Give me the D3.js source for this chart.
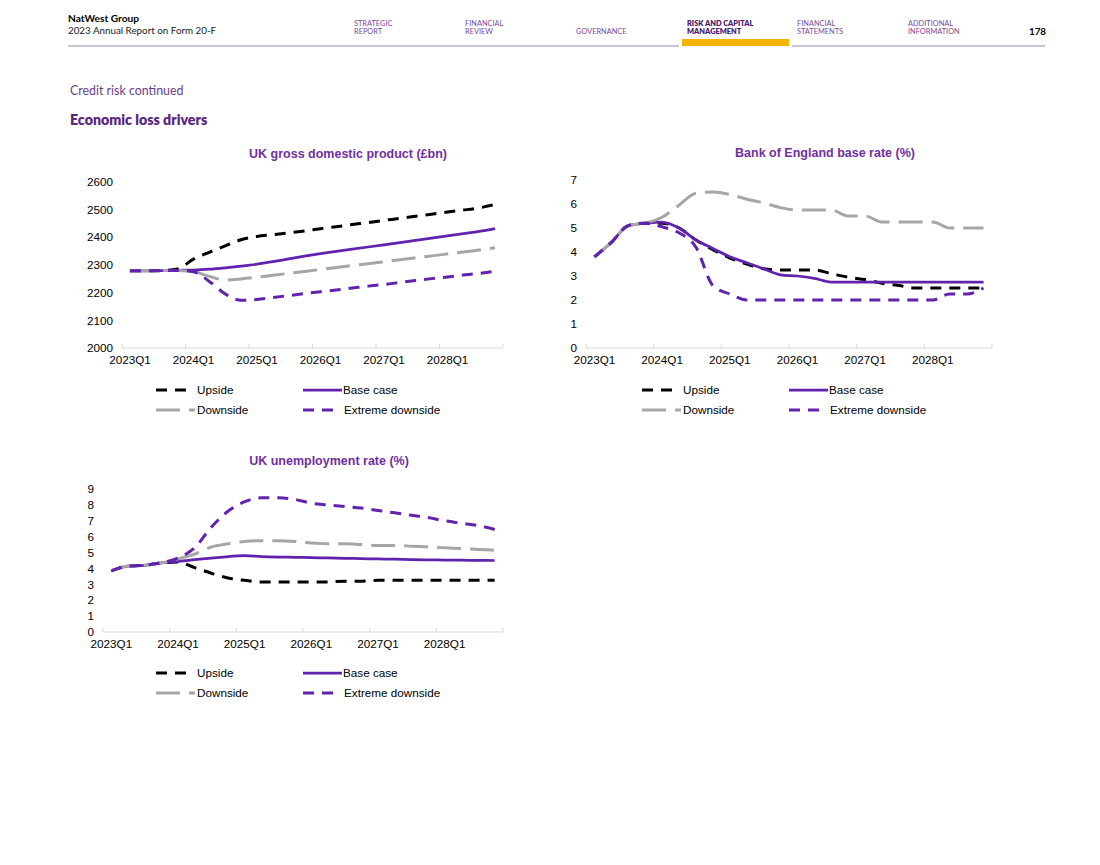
<!DOCTYPE html>
<html>
<head>
<meta charset="utf-8">
<script src="https://cdn.jsdelivr.net/npm/d3@7/dist/d3.min.js"></script>
<style>
  body { margin: 0; background: #fff; }
  svg text { font-family: "Liberation Sans", Arial, sans-serif; }
  .hdr { font-family: Lato, "Noto Sans", sans-serif !important; }
</style>
</head>
<body>
<svg id="page" width="1100" height="865"></svg>
<script>
'use strict'

// Data
// ----
var quarters = [
  '2023Q1','2023Q2','2023Q3','2023Q4',
  '2024Q1','2024Q2','2024Q3','2024Q4',
  '2025Q1','2025Q2','2025Q3','2025Q4',
  '2026Q1','2026Q2','2026Q3','2026Q4',
  '2027Q1','2027Q2','2027Q3','2027Q4',
  '2028Q1','2028Q2','2028Q3','2028Q4'
]
var tickLabels = ['2023Q1','2024Q1','2025Q1','2026Q1','2027Q1','2028Q1']
var seriesNames = ['Upside', 'Base case', 'Downside', 'Extreme downside']

var gdpTicks = [2000, 2100, 2200, 2300, 2400, 2500, 2600]
var gdpUpside   = [2278,2278,2279,2285,2320,2345,2368,2390,2402,2408,2415,2422,2430,2437,2445,2452,2460,2467,2475,2482,2490,2497,2505,2517]
var gdpBase     = [2278,2278,2279,2280,2281,2284,2289,2295,2302,2311,2321,2331,2340,2348,2356,2364,2372,2380,2388,2396,2404,2412,2420,2430]
var gdpDownside = [2278,2278,2279,2279,2275,2258,2245,2249,2255,2262,2269,2276,2283,2290,2297,2304,2311,2318,2325,2332,2339,2346,2353,2361]
var gdpExtreme  = [2278,2278,2279,2279,2275,2240,2195,2172,2175,2182,2189,2196,2203,2209,2216,2223,2229,2236,2243,2250,2256,2263,2269,2276]

var rateTicks = [0, 1, 2, 3, 4, 5, 6, 7]
var rateUpside   = [3.8,4.4,5.1,5.2,5.2,5.0,4.5,4.1,3.75,3.5,3.3,3.25,3.25,3.25,3.1,2.95,2.85,2.7,2.6,2.5,2.5,2.5,2.5,2.5]
var rateBase     = [3.8,4.4,5.1,5.2,5.25,5.0,4.5,4.15,3.8,3.55,3.3,3.05,3.0,2.9,2.75,2.75,2.75,2.75,2.75,2.75,2.75,2.75,2.75,2.75]
var rateDownside = [3.8,4.4,5.1,5.2,5.45,5.95,6.45,6.5,6.4,6.2,6.05,5.85,5.75,5.75,5.75,5.5,5.5,5.25,5.25,5.25,5.25,5.0,5.0,5.0]
var rateExtreme  = [3.8,4.4,5.1,5.2,5.05,4.8,4.2,2.6,2.25,2.0,2.0,2.0,2.0,2.0,2.0,2.0,2.0,2.0,2.0,2.0,2.0,2.25,2.25,2.5]

var unempTicks = [0, 1, 2, 3, 4, 5, 6, 7, 8, 9]
var unempUpside   = [3.85,4.15,4.2,4.35,4.4,4.05,3.7,3.4,3.25,3.15,3.15,3.15,3.15,3.15,3.2,3.2,3.25,3.25,3.25,3.25,3.25,3.25,3.25,3.25]
var unempBase     = [3.85,4.15,4.2,4.35,4.45,4.55,4.65,4.75,4.8,4.75,4.72,4.7,4.68,4.66,4.64,4.62,4.6,4.58,4.56,4.54,4.53,4.52,4.51,4.5]
var unempDownside = [3.85,4.15,4.2,4.35,4.6,4.9,5.35,5.55,5.7,5.75,5.75,5.7,5.6,5.55,5.55,5.5,5.45,5.45,5.4,5.35,5.3,5.25,5.2,5.15]
var unempExtreme  = [3.85,4.15,4.2,4.35,4.65,5.3,6.6,7.6,8.2,8.45,8.45,8.35,8.1,8.0,7.9,7.8,7.65,7.5,7.35,7.2,7.0,6.85,6.7,6.45]

// Styles
// ------
var purple = '#6122ae'
var titlePurple = '#7030a0'
var labelSize = '11.7px'
var styles = [
  { color: '#000000', width: 3, dash: '11,8' },
  { color: purple,    width: 2.75, dash: null },
  { color: '#a6a6a6', width: 3, dash: '24,9' },
  { color: purple,    width: 3, dash: '11,8' }
]

var svg = d3.select('#page')

// Page header
// -----------
function hdrText(x, y, str, size, weight, color) {
  svg.append('text').attr('class', 'hdr')
    .attr('x', x).attr('y', y)
    .style('font-size', size + 'px')
    .style('font-weight', weight)
    .style('fill', color)
    .text(str)
}
hdrText(68, 22, 'NatWest Group', 10.2, 700, '#000')
hdrText(68, 34, '2023 Annual Report on Form 20-F', 9.8, 400, '#222')

var nav = [
  { x: 354, lines: ['STRATEGIC', 'REPORT'] },
  { x: 465, lines: ['FINANCIAL', 'REVIEW'] },
  { x: 576, lines: ['', 'GOVERNANCE'] },
  { x: 687, lines: ['RISK AND CAPITAL', 'MANAGEMENT'], bold: true },
  { x: 797, lines: ['FINANCIAL', 'STATEMENTS'] },
  { x: 908, lines: ['ADDITIONAL', 'INFORMATION'] }
]
nav.forEach(function(n) {
  n.lines.forEach(function(l, i) {
    hdrText(n.x, 26 + i * 8, l, 7.4, n.bold ? 800 : 400, n.bold ? '#4b1c6e' : '#7a4a9a')
  })
})
hdrText(1029, 35, '178', 9.8, 700, '#000')

svg.append('line').attr('x1', 68).attr('x2', 679).attr('y1', 46).attr('y2', 46)
  .style('stroke', '#9c82b4').style('stroke-width', 1.2)
svg.append('rect').attr('x', 682).attr('y', 39).attr('width', 107).attr('height', 7)
  .style('fill', '#f5b400')
svg.append('line').attr('x1', 792).attr('x2', 1045).attr('y1', 46).attr('y2', 46)
  .style('stroke', '#9c82b4').style('stroke-width', 1.2)

hdrText(70, 95, 'Credit risk continued', 12.4, 400, '#6b3d8e')
hdrText(70, 125, 'Economic loss drivers', 14.2, 800, '#5a287d')

// Charts
// ------
var charts = [
  {
    title: 'UK gross domestic product (£bn)', titleX: 348, titleY: 158,
    left: 122, right: 503, top: 181.5, bottom: 348,
    domain: [2000, 2600], ticks: gdpTicks,
    series: [gdpUpside, gdpBase, gdpDownside, gdpExtreme],
    legendX: 156, legendY: 390
  },
  {
    title: 'Bank of England base rate (%)', titleX: 825, titleY: 157,
    left: 586, right: 992, top: 180, bottom: 348,
    domain: [0, 7], ticks: rateTicks,
    series: [rateUpside, rateBase, rateDownside, rateExtreme],
    legendX: 642, legendY: 390
  },
  {
    title: 'UK unemployment rate (%)', titleX: 329, titleY: 465,
    left: 103, right: 503, top: 489, bottom: 632,
    domain: [0, 9], ticks: unempTicks,
    series: [unempUpside, unempBase, unempDownside, unempExtreme],
    legendX: 156, legendY: 673
  }
]

charts.forEach(drawChart)

function drawChart(c) {
  var g = svg.append('g')

  var x = d3.scaleBand().domain(quarters).range([c.left, c.right])
  var y = d3.scaleLinear().domain(c.domain).range([c.bottom, c.top])
  var half = x.bandwidth() / 2

  g.append('text')
    .attr('x', c.titleX).attr('y', c.titleY)
    .attr('text-anchor', 'middle')
    .style('font-size', '12.5px').style('font-weight', 'bold')
    .style('fill', titlePurple)
    .text(c.title)

  // y axis labels only
  var yAxis = g.append('g')
    .attr('transform', 'translate(' + c.left + ',0)')
    .call(d3.axisLeft(y).tickValues(c.ticks).tickSize(0).tickPadding(9).tickFormat(d3.format('d')))
  yAxis.select('.domain').remove()
  yAxis.selectAll('text').style('font-size', labelSize).style('fill', '#000')
    .style('font-family', '"Liberation Sans", Arial, sans-serif')

  // x axis line + boundary ticks
  g.append('line')
    .attr('x1', c.left).attr('x2', c.right)
    .attr('y1', c.bottom).attr('y2', c.bottom)
    .style('stroke', '#d9d9d9').style('stroke-width', 1)
  var tickPos = tickLabels.map(function(q) { return x(q) }).concat([c.right])
  g.selectAll('line.tk').data(tickPos).enter().append('line')
    .attr('class', 'tk')
    .attr('x1', function(d) { return d }).attr('x2', function(d) { return d })
    .attr('y1', c.bottom - 4).attr('y2', c.bottom)
    .style('stroke', '#d9d9d9')

  var xAxis = g.append('g')
    .attr('transform', 'translate(0,' + c.bottom + ')')
    .call(d3.axisBottom(x).tickValues(tickLabels).tickSize(0).tickPadding(8))
  xAxis.select('.domain').remove()
  xAxis.selectAll('text').style('font-size', labelSize).style('fill', '#000')
    .style('font-family', '"Liberation Sans", Arial, sans-serif')

  // lines
  var line = d3.line()
    .x(function(d, i) { return x(quarters[i]) + half })
    .y(function(d) { return y(d) })
    .curve(d3.curveMonotoneX)

  c.series.forEach(function(s, k) {
    var st = styles[k]
    g.append('path')
      .datum(s)
      .attr('d', line)
      .style('fill', 'none')
      .style('stroke', st.color)
      .style('stroke-width', st.width)
      .style('stroke-dasharray', st.dash)
  })

  // legend
  var legendItems = [
    { k: 0, dx: 0,   dy: 0,  len: 34, tx: 41 },
    { k: 1, dx: 147, dy: 0,  len: 39, tx: 40 },
    { k: 2, dx: 0,   dy: 20, len: 39, tx: 41 },
    { k: 3, dx: 147, dy: 20, len: 32, tx: 41 }
  ]
  legendItems.forEach(function(li) {
    var st = styles[li.k]
    var lx = c.legendX + li.dx
    var ly = c.legendY + li.dy
    g.append('line')
      .attr('x1', lx).attr('x2', lx + li.len)
      .attr('y1', ly).attr('y2', ly)
      .style('stroke', st.color)
      .style('stroke-width', st.width)
      .style('stroke-dasharray', st.dash)
    g.append('text')
      .attr('x', lx + li.tx).attr('y', ly + 4)
      .style('font-size', labelSize).style('fill', '#000')
      .text(seriesNames[li.k])
  })
}
</script>
</body>
</html>
